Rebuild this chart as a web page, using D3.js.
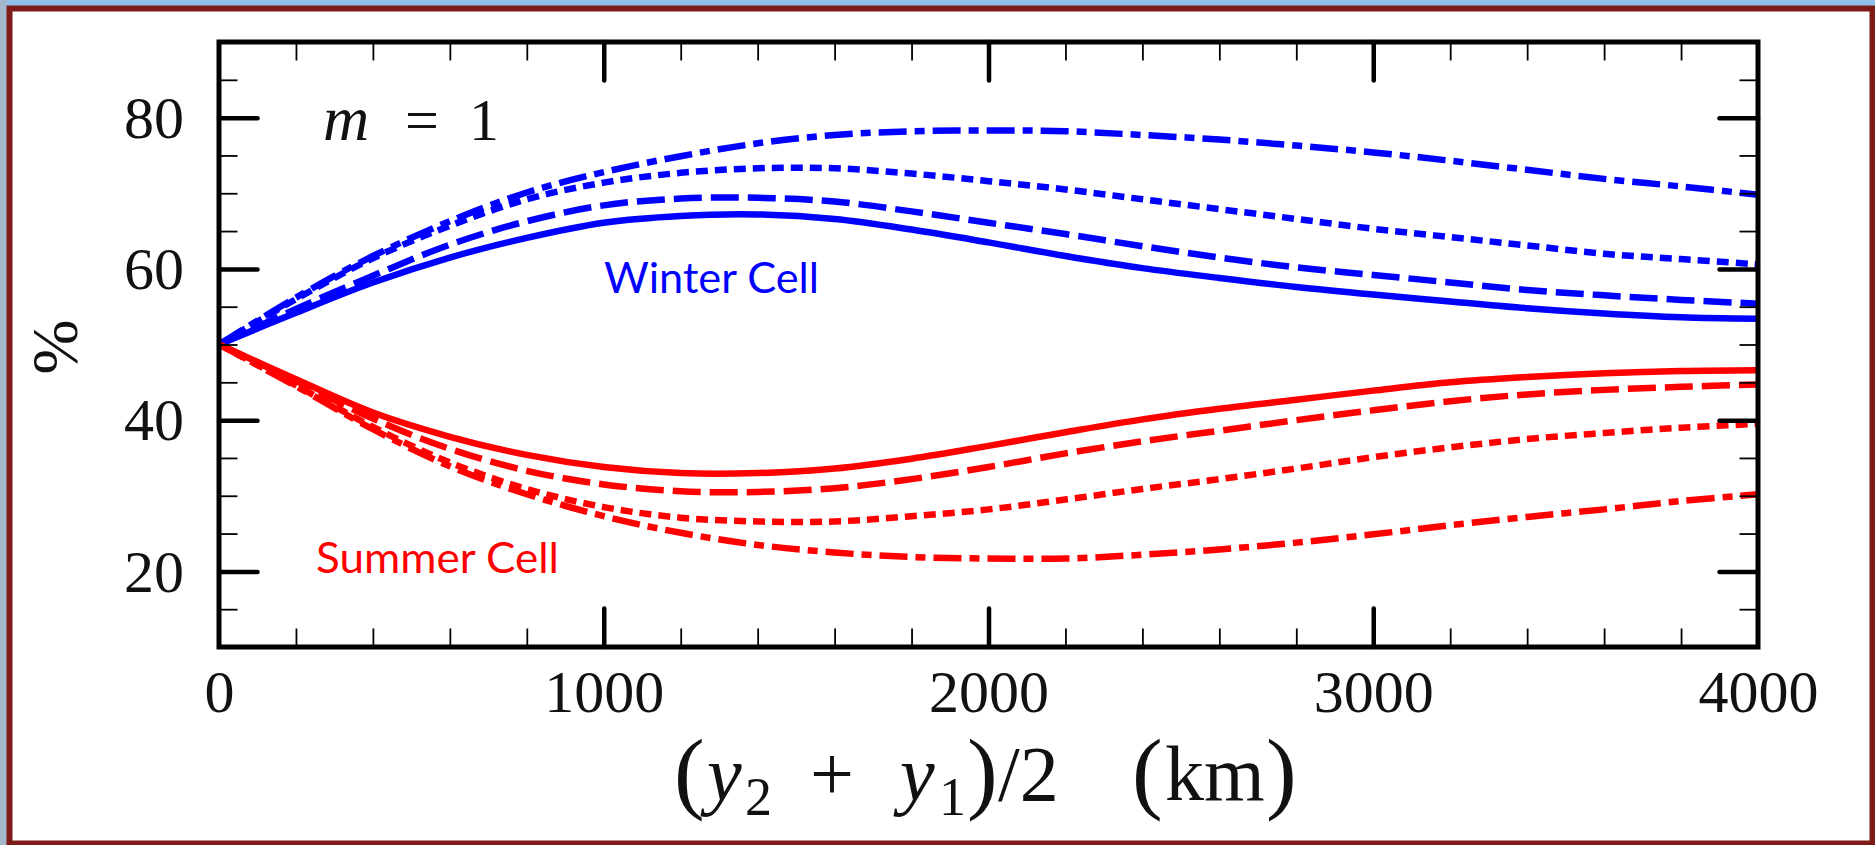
<!DOCTYPE html>
<html><head><meta charset="utf-8">
<script src="https://cdn.jsdelivr.net/npm/d3@7"></script>
<style>
html,body{margin:0;padding:0;background:#8fc1e9;overflow:hidden}
svg{display:block}
</style></head><body>
<svg id="c" width="1875" height="845"></svg>
<script>
// ---- data ----
const distance = [0,200,400,600,800,1000,1200,1400,1600,1800,2000,2200,2400,2600,2800,3000,3200,3400,3600,3800,4000];
const winterSolid   = [50,54.2,58.2,61.5,64.1,66.1,67.0,67.2,66.6,65.2,63.5,61.7,60.1,58.8,57.6,56.6,55.7,54.8,54.1,53.6,53.4];
const winterDashed  = [50,54.7,59.1,63.2,66.3,68.4,69.3,69.4,68.9,67.6,66.1,64.6,63.0,61.5,60.2,59.2,58.2,57.2,56.5,55.9,55.4];
const winterDotted  = [50,56.0,61.4,65.7,69.2,71.4,72.7,73.3,73.3,72.6,71.6,70.5,69.2,67.9,66.6,65.3,64.2,63.1,62.0,61.3,60.6];
const winterDashDot = [50,56.2,61.7,66.3,70.1,72.8,74.9,76.6,77.7,78.2,78.3,78.2,77.7,77.1,76.3,75.4,74.3,73.1,71.9,70.9,69.8];
const summerSolid   = [50,45.4,41.0,37.8,35.4,33.8,33.0,33.0,33.6,34.9,36.6,38.4,40.1,41.5,42.7,43.9,45.0,45.7,46.2,46.5,46.6];
const summerDashed  = [50,45.2,40.2,36.2,33.3,31.5,30.6,30.5,31.0,32.2,33.8,35.6,37.2,38.6,40.0,41.3,42.5,43.4,44.0,44.4,44.7];
const summerDotted  = [50,44.6,39.1,34.4,30.9,28.5,27.1,26.6,26.6,27.3,28.2,29.5,30.9,32.2,33.6,35.1,36.4,37.5,38.3,39.0,39.5];
const summerDashDot = [50,44.5,38.8,33.9,30.2,27.3,25.1,23.5,22.5,21.9,21.7,21.7,22.2,22.9,23.8,24.9,26.1,27.2,28.2,29.3,30.2];
const xTickLabels = [0,1000,2000,3000,4000];
const yTickLabels = [20,40,60,80];
const xMinorTicks = d3.range(0,4001,200);
const yMinorTicks = d3.range(10,91,5);

// ---- layout ----
const L=219, R=1758, T=42, B=647;
const svg = d3.select("#c");
svg.append("rect").attr("width",1875).attr("height",845).attr("fill","#8fc1e9");
svg.append("rect").attr("x",0).attr("y",0).attr("width",7).attr("height",845).attr("fill","#a3b8cc");
svg.append("rect").attr("x",9.5).attr("y",8.5).attr("width",1863).attr("height",835)
  .attr("fill","#ffffff").attr("stroke","#7d1b17").attr("stroke-width",6);

const x = d3.scaleLinear().domain([0,4000]).range([L,R]);
const y = d3.scaleLinear().domain([10,90]).range([B,T]);

// ---- series ----
const series = [
  {v:winterSolid,   c:"#0000ff", d:null},
  {v:winterDashed,  c:"#0000ff", d:"28,9"},
  {v:winterDotted,  c:"#0000ff", d:"12,7"},
  {v:winterDashDot, c:"#0000ff", d:"28,8,10,8"},
  {v:summerSolid,   c:"#ff0000", d:null},
  {v:summerDashed,  c:"#ff0000", d:"28,9"},
  {v:summerDotted,  c:"#ff0000", d:"12,7"},
  {v:summerDashDot, c:"#ff0000", d:"28,8,10,8"}
];
const line = d3.line().x((d,i)=>x(distance[i])).y(d=>y(d)).curve(d3.curveCatmullRom.alpha(0.5));
svg.append("g").selectAll("path").data(series).join("path")
  .attr("d",s=>line(s.v)).attr("fill","none").attr("stroke",s=>s.c)
  .attr("stroke-width",6.5).attr("stroke-dasharray",s=>s.d);

// ---- axes / ticks ----
function ticks(axis, tr, vals, size, w){
  const g = svg.append("g").attr("transform",tr)
    .call(axis.tickValues(vals).tickSize(size).tickFormat(""));
  g.select(".domain").remove();
  g.selectAll("text").remove();
  g.selectAll("line").attr("stroke","#000").attr("stroke-width",w).attr("stroke-linecap", w>3?"round":"butt");
  return g;
}
const xMajor = xTickLabels.filter(v=>v>0&&v<4000);
ticks(d3.axisTop(x), `translate(0,${B})`, xMinorTicks, 18.5, 1.8);
ticks(d3.axisTop(x), `translate(0,${B})`, xMajor, 38.5, 4.5);
ticks(d3.axisBottom(x), `translate(0,${T})`, xMinorTicks, 18.5, 1.8);
ticks(d3.axisBottom(x), `translate(0,${T})`, xMajor, 38.5, 4.5);
ticks(d3.axisRight(y), `translate(${L},0)`, yMinorTicks, 18.5, 1.8);
ticks(d3.axisRight(y), `translate(${L},0)`, yTickLabels, 38.5, 4.5);
ticks(d3.axisLeft(y), `translate(${R},0)`, yMinorTicks, 18.5, 1.8);
ticks(d3.axisLeft(y), `translate(${R},0)`, yTickLabels, 38.5, 4.5);

svg.append("rect").attr("x",L).attr("y",T).attr("width",R-L).attr("height",B-T)
  .attr("fill","none").attr("stroke","#000").attr("stroke-width",5);

// tick labels
const serif = "'Liberation Serif','DejaVu Serif',serif";
const gx = svg.append("g").attr("transform",`translate(0,${B})`)
  .call(d3.axisBottom(x).tickValues(xTickLabels).tickSize(0).tickFormat(d3.format("d")));
gx.select(".domain").remove();
gx.selectAll("text").attr("y",65).attr("dy",null).attr("font-family",serif).attr("font-size",60).attr("fill","#111");

const gy = svg.append("g").attr("transform",`translate(${L},0)`)
  .call(d3.axisLeft(y).tickValues(yTickLabels).tickSize(0).tickFormat(d3.format("d")));
gy.select(".domain").remove();
gy.selectAll("text").attr("x",-35).attr("dy","0.33em").attr("font-family",serif).attr("font-size",60).attr("fill","#111");

// axis titles
const xt = svg.append("text").attr("font-family",serif).attr("font-size",78).attr("fill","#111");
const base = 800, sub = 815;
xt.append("tspan").attr("x",674).attr("y",base+2).attr("font-size",92).text("(");
xt.append("tspan").attr("x",707).attr("y",base).attr("font-style","italic").text("y");
xt.append("tspan").attr("x",745).attr("y",sub).attr("font-size",54).text("2");
xt.append("tspan").attr("x",810).attr("y",base).text("+");
xt.append("tspan").attr("x",900).attr("y",base).attr("font-style","italic").text("y");
xt.append("tspan").attr("x",939).attr("y",sub).attr("font-size",54).text("1");
xt.append("tspan").attr("x",967).attr("y",base+2).attr("font-size",92).text(")");
xt.append("tspan").attr("x",998).attr("y",base).text("/2");
xt.append("tspan").attr("x",1132).attr("y",base+2).attr("font-size",92).text("(");
xt.append("tspan").attr("x",1165).attr("y",base).text("km");
xt.append("tspan").attr("x",1266).attr("y",base+2).attr("font-size",92).text(")");

svg.append("text").attr("transform","translate(54,347) rotate(-90)")
  .attr("text-anchor","middle").attr("dominant-baseline","central")
  .attr("font-family",serif).attr("font-size",66).attr("fill","#111").text("%");

// m = 1
svg.append("text").attr("x",323).attr("y",140).attr("font-family",serif).attr("font-size",64)
  .attr("font-style","italic").attr("fill","#111").text("m");
svg.append("text").attr("x",405).attr("y",140).attr("font-family",serif).attr("font-size",60)
  .attr("fill","#111").text("=");
svg.append("text").attr("x",469).attr("y",140).attr("font-family",serif).attr("font-size",60)
  .attr("fill","#111").text("1");

// cell labels
const sans = "Lato,'Open Sans',sans-serif";
svg.append("text").attr("x",604).attr("y",293).attr("font-family",sans).attr("font-size",42)
  .attr("fill","#0000ff").attr("textLength",215).attr("lengthAdjust","spacingAndGlyphs").text("Winter Cell");
svg.append("text").attr("x",316).attr("y",573).attr("font-family",sans).attr("font-size",43)
  .attr("fill","#ff0000").attr("textLength",243).attr("lengthAdjust","spacingAndGlyphs").text("Summer Cell");
</script>
</body></html>
